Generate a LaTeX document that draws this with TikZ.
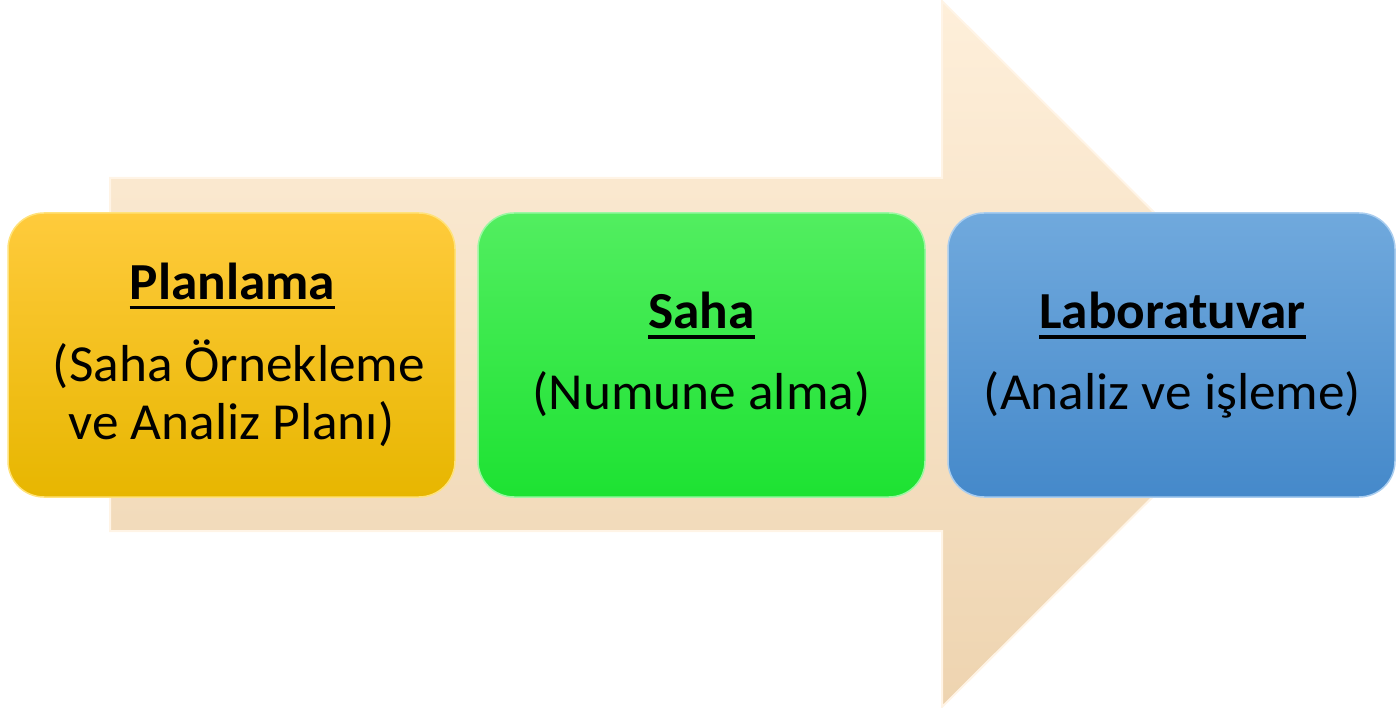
\documentclass[tikz,border=0pt]{standalone}
\usepackage{fontspec}
\setmainfont{Carlito}[FakeStretch=1.025]
\definecolor{arrTop}{HTML}{FEEFDA}
\definecolor{arrBot}{HTML}{EED4B0}
\definecolor{arrEdge}{HTML}{FFF4E6}
\definecolor{orTop}{HTML}{FFCB3C}
\definecolor{orBot}{HTML}{E7B600}
\definecolor{orEdge}{HTML}{FFE27A}
\definecolor{grTop}{HTML}{52EE60}
\definecolor{grBot}{HTML}{1DE232}
\definecolor{grEdge}{HTML}{9BF7A3}
\definecolor{blTop}{HTML}{70A9DD}
\definecolor{blBot}{HTML}{4589CA}
\definecolor{blEdge}{HTML}{A9CDEF}
\tikzset{
  stagebox/.style={rounded corners=36, minimum width=447, minimum height=284, inner sep=0, line width=1.5},
  titletext/.style={font=\fontsize{52}{57}\selectfont\bfseries, inner sep=0, anchor=base},
  subtext/.style={font=\fontsize{52}{57}\selectfont, inner sep=0, anchor=base, align=center},
  uline/.style={line width=3.2, black}
}
\begin{document}
\begin{tikzpicture}[x=1pt,y=-1pt]
\useasboundingbox (0,0) rectangle (1398,708);
% big background arrow
\path[top color=arrTop, bottom color=arrBot, draw=arrEdge, line width=2]
  (110,178) -- (942,178) -- (942,1) -- (1296,354) -- (942,707) -- (942,531) -- (110,531) -- cycle;
% boxes
\node[stagebox, top color=orTop, bottom color=orBot, draw=orEdge] (plan) at (231.5,355) {};
\node[stagebox, top color=grTop, bottom color=grBot, draw=grEdge] (saha) at (701.5,355) {};
\node[stagebox, top color=blTop, bottom color=blBot, draw=blEdge] (lab) at (1171.5,355) {};
% texts
\node[titletext] (t1) at (232.5,300) {Planlama};
\node[subtext] (s1) at (239,382) {(Saha Örnekleme};
\node[subtext] (s1b) at (231.5,439) {ve Analiz Planı)};
\node[titletext] (t2) at (701.5,329) {Saha};
\node[subtext] (s2) at (701.5,410) {(Numune alma)};
\node[titletext] (t3) at (1172.5,329) {Laboratuvar};
\node[subtext] (s3) at (1172.5,410) {(Analiz ve işleme)};
% underlines
\draw[uline] ([yshift=-7.5]t1.base west) -- ([yshift=-7.5]t1.base east);
\draw[uline] ([yshift=-8]t2.base west) -- ([yshift=-8]t2.base east);
\draw[uline] ([yshift=-8]t3.base west) -- ([yshift=-8]t3.base east);
\end{tikzpicture}
\end{document}
